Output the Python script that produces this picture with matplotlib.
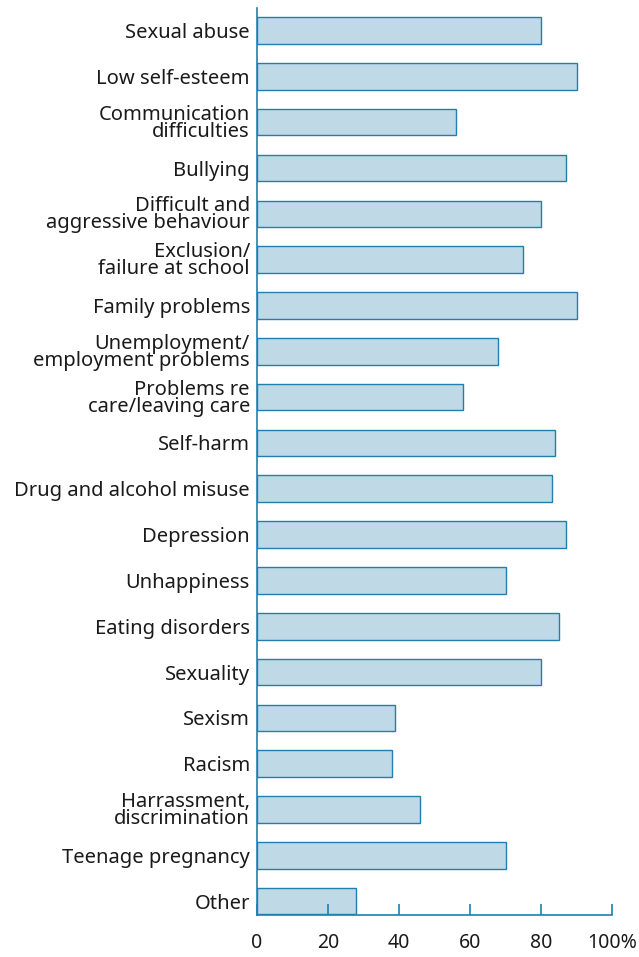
import matplotlib
matplotlib.use("Agg")
import matplotlib.pyplot as plt

# Categories and percentages, top to bottom
labels = [
    "Sexual abuse", "Low self-esteem", "Communication\ndifficulties", "Bullying",
    "Difficult and\naggressive behaviour", "Exclusion/\nfailure at school",
    "Family problems", "Unemployment/\nemployment problems",
    "Problems re\ncare/leaving care", "Self-harm", "Drug and alcohol misuse",
    "Depression", "Unhappiness", "Eating disorders", "Sexuality", "Sexism",
    "Racism", "Harrassment,\ndiscrimination", "Teenage pregnancy", "Other",
]
values = [80, 90, 56, 87, 80, 75, 90, 68, 58, 84, 83, 87, 70, 85, 80, 39, 38, 46, 70, 28]
xticks = [0, 20, 40, 60, 80, 100]
xtick_labels = ["0", "20", "40", "60", "80", "100%"]

blue = "#1f80ad"
fill = "#bfd9e7"

plt.rcParams['font.family'] = ['Noto Sans', 'DejaVu Sans']

fig = plt.figure(figsize=(6.39, 9.57), dpi=100)
ax = fig.add_axes([0.402, 0.044, 0.556, 0.948])

pos = list(range(len(labels)))
ax.barh(pos, values, height=0.58, color=fill, edgecolor=blue, linewidth=1.0)

ax.set_xlim(0, 100)
ax.set_ylim(len(labels) - 0.7, -0.5)

ax.set_yticks(pos)
ax.set_yticklabels(labels, fontsize=14.5, linespacing=0.8, color="#1a1a1a")
ax.tick_params(axis='y', length=0, pad=5)

ax.set_xticks(xticks)
ax.set_xticklabels(xtick_labels, fontsize=14, color="#1a1a1a")
ax.tick_params(axis='x', direction='in', length=8, width=1.2, color=blue, pad=13)

for side in ['top', 'right']:
    ax.spines[side].set_visible(False)
for side in ['left', 'bottom']:
    ax.spines[side].set_color(blue)
    ax.spines[side].set_linewidth(1.2)

fig.savefig("out.png", dpi=100)
